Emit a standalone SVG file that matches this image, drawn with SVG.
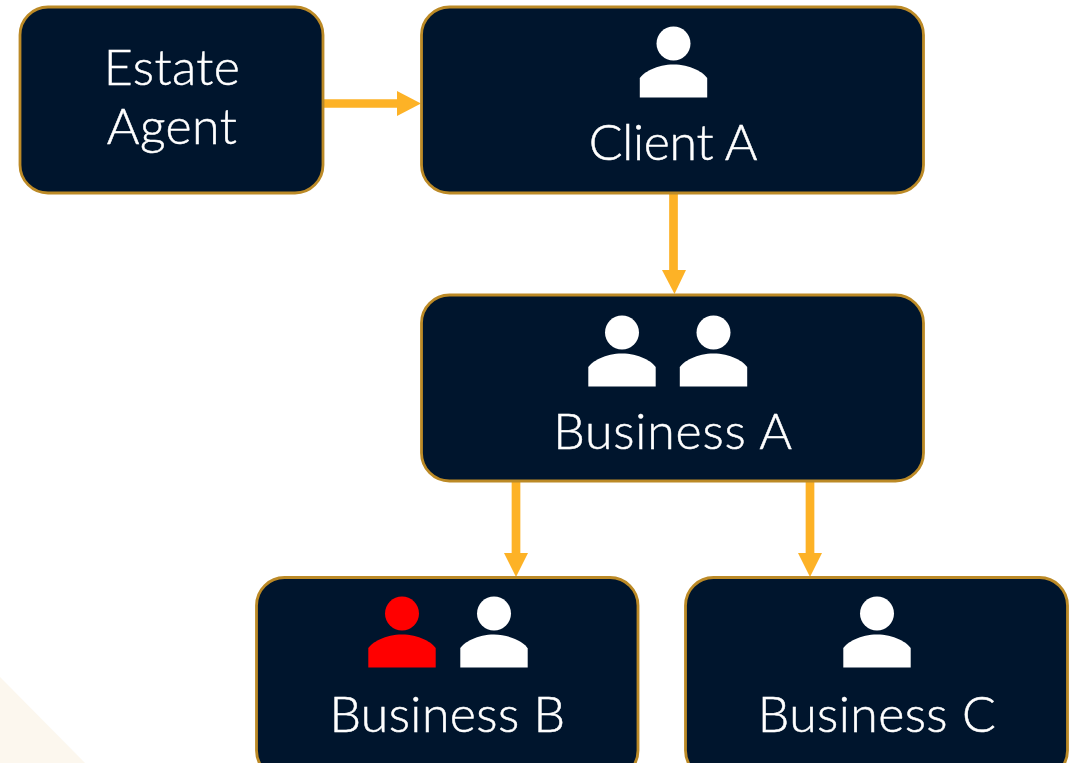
<svg xmlns="http://www.w3.org/2000/svg" width="1069" height="763" viewBox="0 0 1069 763">
<style>
.n{fill:#00152D;stroke:#BC8A26;stroke-width:2.8}
.t{fill:#fff;stroke:#fff;stroke-width:.5;font-family:"Lato","Open Sans",sans-serif;font-weight:300;font-size:50px;letter-spacing:.4px;text-anchor:middle}
.c{stroke:#FDB226;stroke-width:8.7;fill:none}
.h{fill:#FDB226}
</style>
<defs>
<g id="p"><circle cx="0" cy="0" r="17"/><path d="M-33.700 54V35C-31 29-16 21 0 21S31 29 33.700 35V54Z"/></g>
</defs>
<rect width="1069" height="763" fill="#fff"/>
<polygon points="0,677 85,763 0,763" fill="#FCF7EE"/>
<g id="connectors">
<path class="c" d="M323 103.500H398"/><polygon class="h" points="397,91 421,103.500 397,116"/>
<path class="c" d="M673.500 193V271"/><polygon class="h" points="662,270 686,270 674.500,294"/>
<path class="c" d="M516 481V554"/><polygon class="h" points="504,553 528,553 516,577"/>
<path class="c" d="M810 481V554"/><polygon class="h" points="798,553 822,553 810,577"/>
</g>
<g id="estate-agent"><rect class="n" x="20" y="7" width="303" height="186" rx="28"/>
<text class="t" x="172" y="85">Estate</text><text class="t" x="172" y="144">Agent</text></g>
<g id="client-a"><rect class="n" x="421.500" y="7" width="502" height="186" rx="28"/>
<use href="#p" x="673.500" y="43.500" fill="#fff"/><text class="t" x="673" y="160" style="letter-spacing:-.3px">Client A</text></g>
<g id="business-a"><rect class="n" x="421.500" y="295" width="502" height="186" rx="28"/>
<use href="#p" x="622" y="332.500" fill="#fff"/><use href="#p" x="713.500" y="332.500" fill="#fff"/><text class="t" x="673" y="449" style="letter-spacing:.8px">Business A</text></g>
<g id="business-b"><rect class="n" x="256.500" y="577.500" width="381.500" height="201" rx="28"/>
<use href="#p" x="402" y="613.500" fill="#f00"/><use href="#p" x="494" y="613.500" fill="#fff"/><text class="t" x="447.500" y="732">Business B</text></g>
<g id="business-c"><rect class="n" x="685.500" y="577.500" width="382" height="201" rx="28"/>
<use href="#p" x="877" y="613.500" fill="#fff"/><text class="t" x="877" y="732">Business C</text></g>
</svg>
